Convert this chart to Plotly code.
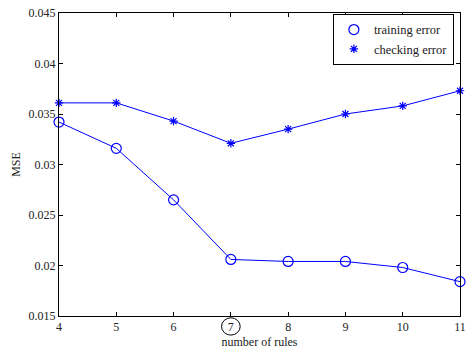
import plotly.graph_objects as go

rules = [4, 5, 6, 7, 8, 9, 10, 11]
training_error = [0.0342, 0.0316, 0.0265, 0.0206, 0.0204, 0.0204, 0.0198, 0.0184]
checking_error = [0.0361, 0.0361, 0.0343, 0.0321, 0.0335, 0.0350, 0.0358, 0.0373]
y_ticks = [0.015, 0.02, 0.025, 0.03, 0.035, 0.04, 0.045]
y_tick_text = ["0.015", "0.02", "0.025", "0.03", "0.035", "0.04", "0.045"]

font = "Liberation Serif, Times New Roman, serif"
blue = "#0000ff"

fig = go.Figure()
for name, vals in [("training error", training_error), ("checking error", checking_error)]:
    fig.add_trace(go.Scatter(
        x=rules, y=vals, mode="lines", showlegend=False,
        line=dict(color=blue, width=1), hoverinfo="skip",
    ))
for name, vals, sym, size in [("training error", training_error, "circle-open", 10),
                              ("checking error", checking_error, "asterisk-open", 7)]:
    fig.add_trace(go.Scatter(
        x=rules, y=vals, mode="markers", name=name,
        marker=dict(symbol=sym, size=size, color=blue, line=dict(width=1.2, color=blue)),
        cliponaxis=False,
    ))

axis_common = dict(
    showgrid=False, zeroline=False, showline=True, linecolor="black", linewidth=1,
    mirror="allticks", ticks="inside", ticklen=4, tickcolor="black",
    tickfont=dict(family=font, size=12, color="#222"), ticklabeloverflow="allow",
)
fig.update_xaxes(range=[4, 11], tickvals=rules, title=dict(text="number of rules", font=dict(family=font, size=12, color="#222"), standoff=4), **axis_common)
fig.update_yaxes(range=[0.015, 0.045], tickvals=y_ticks, ticktext=y_tick_text, title=dict(text="MSE", font=dict(family=font, size=12, color="#222"), standoff=5), **axis_common)

fig.add_shape(type="circle", xref="x", yref="paper", x0=7 - 0.163, x1=7 + 0.163, y0=-0.063, y1=-0.006,
              line=dict(color="black", width=1))

fig.update_layout(
    width=470, height=352, margin=dict(l=59, r=4, t=13, b=36),
    paper_bgcolor="white", plot_bgcolor="white",
    font=dict(family=font, size=12, color="#222"),
    showlegend=True,
    legend=dict(x=0.683, y=0.997, xanchor="left", yanchor="top", bordercolor="black", borderwidth=1,
                bgcolor="white", font=dict(family=font, size=12.5), tracegroupgap=0, itemsizing="trace",
                itemwidth=30, traceorder="normal"),
)

fig.write_html("out.html")
